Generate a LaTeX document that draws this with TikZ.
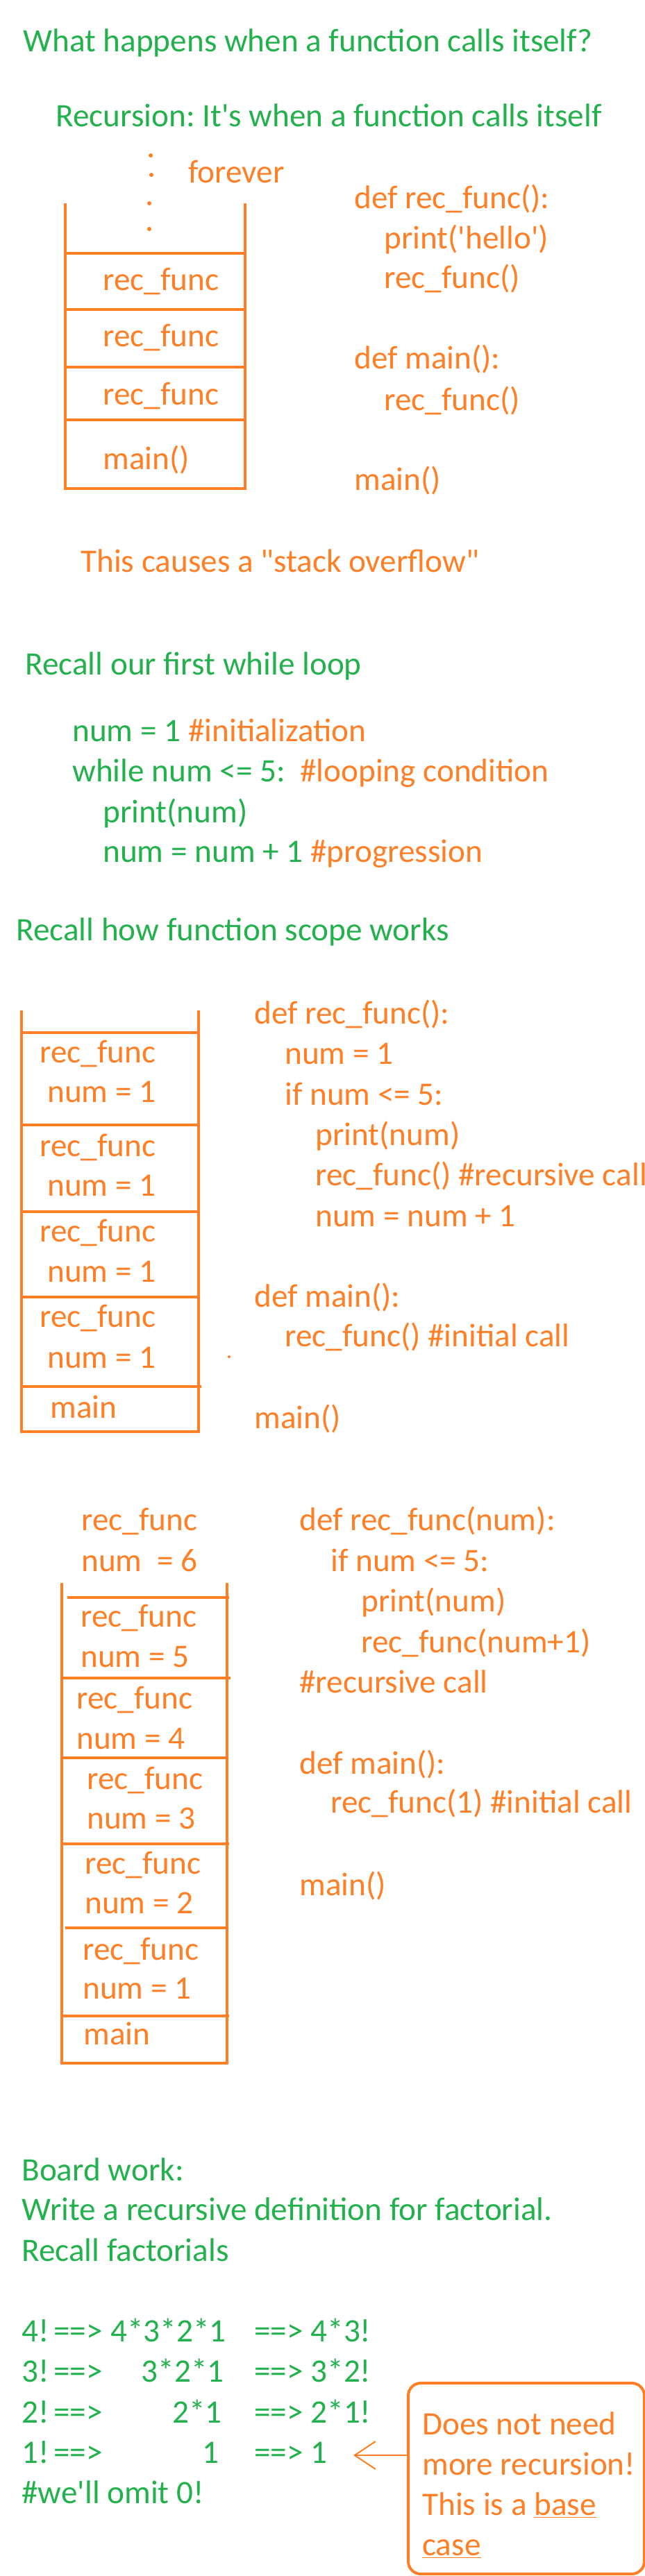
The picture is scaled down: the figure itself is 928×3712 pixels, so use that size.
\documentclass[tikz,border=0pt]{standalone}
\usepackage{fontspec}
\setmainfont{Carlito}
\usepackage{xcolor}
\usepackage{tikz}
\usetikzlibrary{positioning,arrows.meta}
\definecolor{grn}{RGB}{34,177,76}
\definecolor{org}{RGB}{255,127,39}
\frenchspacing

\begin{document}
\begin{tikzpicture}[x=0.5pt, y=-0.5pt,
	gtxt/.style={anchor=base west, inner sep=0pt, text=grn, font=\fontsize{23.6}{29}\selectfont},
	otxt/.style={anchor=base west, inner sep=0pt, text=org, font=\fontsize{23.6}{29}\selectfont},
	stk/.style={draw=org, line width=2pt},
	dotmark/.style={fill=org, circle, inner sep=0pt, minimum size=3pt}]
	\useasboundingbox (0,0) rectangle (928,3712);

	% --- what happens ---
	\node[gtxt] (title) at (33,74) {What happens when a function calls itself?};
	\node[gtxt] (recdef) at (80,182) {Recursion: It\textquotesingle s when a function calls itself};
	\node[dotmark] (d1) at (217,224) {};
	\node[dotmark] (d2) at (218,252) {};
	\node[dotmark] (d3) at (215,293) {};
	\node[dotmark] (d4) at (215,330) {};
	\node[otxt] (forever) at (271,263) {forever};
	\draw[stk] (94,293) -- (94,704) -- (353,704) -- (353,293);
	\draw[stk] (94,365) -- (353,365);
	\draw[stk] (94,446) -- (353,446);
	\draw[stk] (94,529) -- (353,529);
	\draw[stk] (94,605) -- (353,605);
	\node[otxt] (sa1) at (148,418) {rec\_func};
	\node[otxt] (sa2) at (148,499) {rec\_func};
	\node[otxt] (sa3) at (148,583) {rec\_func};
	\node[otxt] (sa4) at (148,676) {main()};
	\node[otxt] (ca1) at (510,300) {def rec\_func():};
	\node[otxt] (ca2) at (553,358) {print(\textquotesingle hello\textquotesingle)};
	\node[otxt] (ca3) at (553,415) {rec\_func()};
	\node[otxt] (ca4) at (510,531) {def main():};
	\node[otxt] (ca5) at (553,591) {rec\_func()};
	\node[otxt] (ca6) at (510,706) {main()};
	\node[otxt] (overflow) at (116,824) {This causes a \textquotedbl stack overflow\textquotedbl};

	% --- while loop ---
	\node[gtxt] (loophead) at (36,972) {Recall our first while loop};
	\node[gtxt] (lp1) at (104,1068) {num = 1 {\color{org}\#initialization}};
	\node[gtxt] (lp2) at (104,1126) {while num <= 5:\ \ {\color{org}\#looping condition}};
	\node[gtxt] (lp3) at (148,1185) {print(num)};
	\node[gtxt] (lp4) at (148,1242) {num = num + 1 {\color{org}\#progression}};

	% --- function scope ---
	\node[gtxt] (scopehead) at (23,1355) {Recall how function scope works};
	\draw[stk] (31,1456) -- (31,2063) -- (286,2063) -- (286,1456);
	\draw[stk] (31,1488) -- (286,1488);
	\draw[stk] (31,1621) -- (286,1621);
	\draw[stk] (31,1746) -- (286,1746);
	\draw[stk] (31,1869) -- (286,1869);
	\draw[stk] (31,1998) -- (290,1998);
	\node[otxt] (sb1) at (57,1531) {rec\_func};
	\node[otxt] (sb2) at (68,1588) {num = 1};
	\node[otxt] (sb3) at (57,1666) {rec\_func};
	\node[otxt] (sb4) at (68,1723) {num = 1};
	\node[otxt] (sb5) at (57,1789) {rec\_func};
	\node[otxt] (sb6) at (68,1847) {num = 1};
	\node[otxt] (sb7) at (57,1912) {rec\_func};
	\node[otxt] (sb8) at (68,1971) {num = 1};
	\node[otxt] (sb9) at (72,2043) {main};
	\node[otxt] (cb1) at (366,1475) {def rec\_func():};
	\node[otxt] (cb2) at (410,1533) {num = 1};
	\node[otxt] (cb3) at (410,1592) {if num <= 5:};
	\node[otxt] (cb4) at (454,1650) {print(num)};
	\node[otxt] (cb5) at (454,1708) {rec\_func() \#recursive call};
	\node[otxt] (cb6) at (454,1767) {num = num + 1};
	\node[otxt] (cb7) at (366,1883) {def main():};
	\node[otxt] (cb8) at (410,1940) {rec\_func() \#initial call};
	\node[otxt] (cb9) at (366,2058) {main()};
	\node[dotmark, minimum size=2pt] (stray) at (330,1955) {};

	% --- with parameter ---
	\node[otxt] (top1) at (117,2205) {rec\_func};
	\node[otxt] (top2) at (117,2264) {num\ \ = 6};
	\draw[stk] (89,2281) -- (89,2973) -- (327,2973) -- (327,2281);
	\draw[stk] (97,2302) -- (330,2302);
	\draw[stk] (89,2418) -- (332,2418);
	\draw[stk] (89,2533) -- (327,2533);
	\draw[stk] (88,2657) -- (330,2657);
	\draw[stk] (94,2778) -- (327,2778);
	\draw[stk] (89,2905) -- (330,2905);
	\node[otxt] (sc1) at (116,2344) {rec\_func};
	\node[otxt] (sc2) at (116,2402) {num = 5};
	\node[otxt] (sc3) at (110,2462) {rec\_func};
	\node[otxt] (sc4) at (110,2520) {num = 4};
	\node[otxt] (sc5) at (125,2578) {rec\_func};
	\node[otxt] (sc6) at (125,2635) {num = 3};
	\node[otxt] (sc7) at (122,2700) {rec\_func};
	\node[otxt] (sc8) at (122,2757) {num = 2};
	\node[otxt] (sc9) at (119,2824) {rec\_func};
	\node[otxt] (sc10) at (119,2880) {num = 1};
	\node[otxt] (sc11) at (120,2946) {main};
	\node[otxt] (cc1) at (431,2205) {def rec\_func(num):};
	\node[otxt] (cc2) at (476,2264) {if num <= 5:};
	\node[otxt] (cc3) at (520,2322) {print(num)};
	\node[otxt] (cc4) at (520,2381) {rec\_func(num+1)};
	\node[otxt] (cc5) at (431,2439) {\#recursive call};
	\node[otxt] (cc6) at (431,2556) {def main():};
	\node[otxt] (cc7) at (476,2612) {rec\_func(1) \#initial call};
	\node[otxt] (cc8) at (431,2731) {main()};

	% --- board work ---
	\node[gtxt] (bw1) at (31,3142) {Board work:};
	\node[gtxt] (bw2) at (31,3199) {Write a recursive definition for factorial.};
	\node[gtxt] (bw3) at (31,3258) {Recall factorials};
	\node[gtxt] (f4a) at (31,3374) {4!};
	\node[gtxt] (f4b) at (77,3374) {==>};
	\node[gtxt, anchor=base east] (f4c) at (326,3374) {4*3*2*1};
	\node[gtxt] (f4d) at (366,3374) {==> 4*3!};
	\node[gtxt] (f3a) at (31,3432) {3!};
	\node[gtxt] (f3b) at (77,3432) {==>};
	\node[gtxt, anchor=base east] (f3c) at (323,3432) {3*2*1};
	\node[gtxt] (f3d) at (366,3432) {==> 3*2!};
	\node[gtxt] (f2a) at (31,3491) {2!};
	\node[gtxt] (f2b) at (77,3491) {==>};
	\node[gtxt, anchor=base east] (f2c) at (320,3491) {2*1};
	\node[gtxt] (f2d) at (366,3491) {==> 2*1!};
	\node[gtxt] (f1a) at (31,3549) {1!};
	\node[gtxt] (f1b) at (77,3549) {==>};
	\node[gtxt, anchor=base east] (f1c) at (316,3549) {1};
	\node[gtxt] (f1d) at (366,3549) {==> 1};
	\node[gtxt] (omit) at (31,3607) {\#we\textquotesingle ll omit 0!};
	\node[draw=org, line width=2pt, rounded corners=9pt, anchor=north west, inner sep=0pt,
	      minimum width=170pt, minimum height=137.5pt] (note) at (586,3432) {};
	\node[otxt] (n1) at (608,3508) {Does not need};
	\node[otxt] (n2) at (608,3566) {more recursion!};
	\node[otxt] (n3) at (608,3624) {This is a \underline{base}};
	\node[otxt] (n4) at (608,3682) {\underline{case}};
	\coordinate (tip) at (509,3538);
	\draw[draw=org, line width=1pt, -{Straight Barb[length=15pt,width=20pt]}] (tip -| note.west) -- (tip);
\end{tikzpicture}
\end{document}
